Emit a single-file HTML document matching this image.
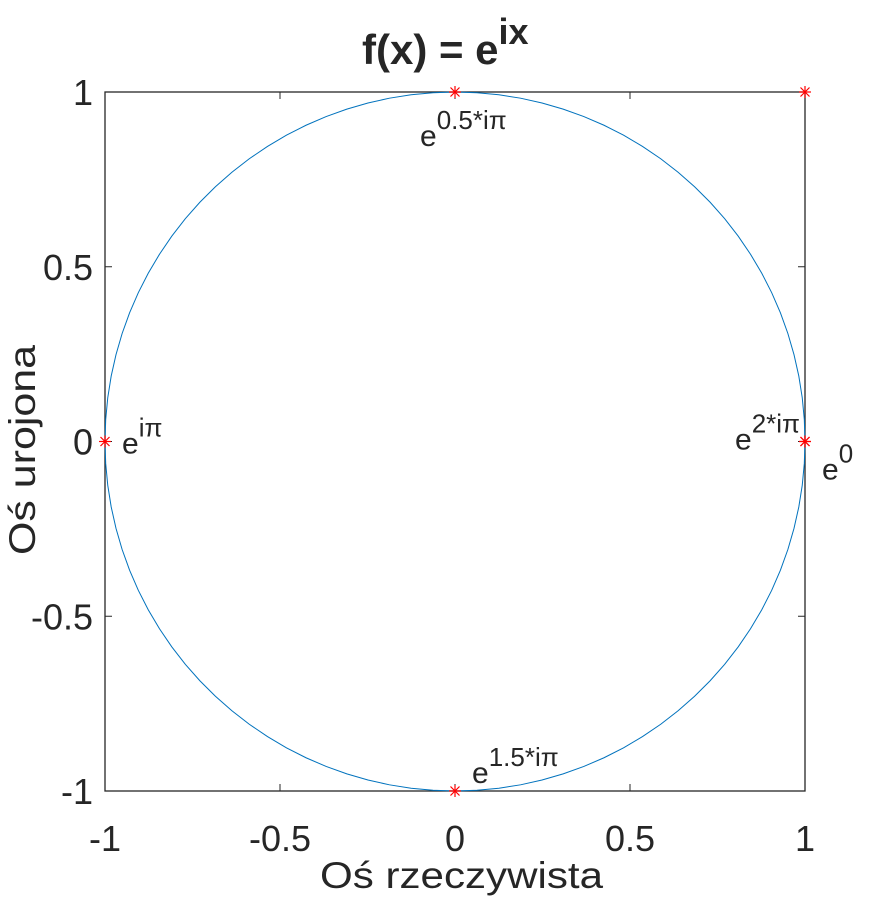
<!DOCTYPE html>
<html><head><meta charset="utf-8"><style>
body{margin:0;background:#fff}
svg{display:block}
text{font-family:"Liberation Sans",sans-serif;fill:#262626}
</style></head><body>
<svg width="882" height="900">
<g id="axes"></g>
<g id="marks"></g>
<text x="362" y="64" font-size="42" font-weight="bold" fill="#000">f(x) = e<tspan dy="-20" font-size="36">ix</tspan></text>
<text x="320" y="888" font-size="37" textLength="283" lengthAdjust="spacingAndGlyphs" fill="#000">Oś rzeczywista</text>
<text transform="translate(35,555) rotate(-90)" font-size="37" textLength="210" lengthAdjust="spacingAndGlyphs" fill="#000">Oś urojona</text>
</svg>
<script>
const xTicks=[-1,-0.5,0,0.5,1];
const yTicks=[-1,-0.5,0,0.5,1];
const tickLabels=["-1","-0.5","0","0.5","1"];
const circleSamples=100;
const pointsX=[1,0,-1,0,1,1];
const pointsY=[0,1,0,-1,0,1];
const annX=[1,0,-1,0,1];
const annY=[0,1,0,-1,0];
const annBase=["e","e","e","e","e"];
const annSup=["0","0.5*iπ","iπ","1.5*iπ","2*iπ"];
const annDx=[17,-35,17,17,-70];
const annDy=[38,54,12,-8,8];

const NS="http://www.w3.org/2000/svg";
const X0=105,X1=805,Y0=92,Y1=791;
const sx=v=>X0+(v+1)/2*(X1-X0);
const sy=v=>Y1-(v+1)/2*(Y1-Y0);
function mk(t,a,p){const e=document.createElementNS(NS,t);for(const k in a)e.setAttribute(k,a[k]);p.appendChild(e);return e;}
const ax=document.getElementById('axes'),mg=document.getElementById('marks');
const box=mk('rect',{x:X0,y:Y0,width:X1-X0,height:Y1-Y0,fill:'none',stroke:'#262626','stroke-width':1.3},ax);


xTicks.forEach((v,i)=>{
 const x=sx(v);
 mk('line',{x1:x,x2:x,y1:Y1,y2:Y1-7,stroke:'#262626'},ax);
 mk('line',{x1:x,x2:x,y1:Y0,y2:Y0+7,stroke:'#262626'},ax);
 const t=mk('text',{x:x,y:Y1+60,'text-anchor':'middle','font-size':36},ax);
 t.textContent=tickLabels[i];
 
 
});
yTicks.forEach((v,i)=>{
 const y=sy(v);
 mk('line',{x1:X0,x2:X0+7,y1:y,y2:y,stroke:'#262626'},ax);
 mk('line',{x1:X1,x2:X1-7,y1:y,y2:y,stroke:'#262626'},ax);
 const t=mk('text',{x:X0-12,y:y+13,'text-anchor':'end','font-size':36},ax);
 t.textContent=tickLabels[i];
 
 
});
let d="";
for(let k=0;k<=circleSamples;k++){const a=2*Math.PI*k/circleSamples;d+=(k?"L":"M")+sx(Math.cos(a)).toFixed(2)+","+sy(Math.sin(a)).toFixed(2);}
const c=mk('path',{d:d,fill:'none',stroke:'#0072BD','stroke-width':1},mg);


pointsX.forEach((v,i)=>{
 const x=sx(v),y=sy(pointsY[i]);
 const g=mk('g',{stroke:'#ff0000','stroke-width':1.2},mg);
 
 
 mk('line',{x1:x-6,x2:x+6,y1:y,y2:y},g);mk('line',{x1:x,x2:x,y1:y-6,y2:y+6},g);
 mk('line',{x1:x-4.5,x2:x+4.5,y1:y-4.5,y2:y+4.5},g);mk('line',{x1:x-4.5,x2:x+4.5,y1:y+4.5,y2:y-4.5},g);
});
annX.forEach((v,i)=>{
 const t=mk('text',{x:sx(v)+annDx[i],y:sy(annY[i])+annDy[i],'font-size':30,fill:'#000'},mg);
 t.textContent=annBase[i];
 const s=mk('tspan',{dy:-17,'font-size':26},t);s.textContent=annSup[i];
 
 
});
</script>
</body></html>
